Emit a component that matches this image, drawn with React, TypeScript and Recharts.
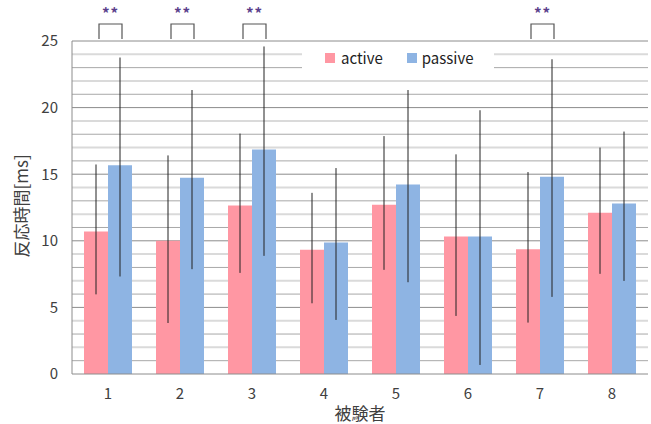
import React from 'react';
import { BarChart, Bar, XAxis, YAxis, ErrorBar, ReferenceLine, CartesianGrid } from 'recharts';

const subjects = ['1', '2', '3', '4', '5', '6', '7', '8'];
const activeMean = [10.7, 10.0, 12.65, 9.32, 12.7, 10.32, 9.37, 12.1];
const passiveMean = [15.68, 14.74, 16.86, 9.87, 14.23, 10.32, 14.81, 12.8];
const activeErr: [number, number][] = [
  [4.72, 5.03], [6.17, 6.41], [5.06, 5.4], [4.01, 4.28],
  [4.88, 5.16], [5.96, 6.17], [5.51, 5.79], [4.58, 4.9],
];
const passiveErr: [number, number][] = [
  [8.36, 8.08], [6.87, 6.58], [7.99, 7.73], [5.81, 5.59],
  [7.34, 7.09], [9.64, 9.48], [9.02, 8.82], [5.81, 5.4],
];
const significant = ['1', '2', '3', '7'];
const yDomain: [number, number] = [0, 25];
const yTicks = [0, 5, 10, 15, 20, 25];
const gridLight = [2, 4, 7, 9, 12, 14, 17, 19, 22, 24];
const gridMedium = [1, 3, 6, 8, 11, 13, 16, 18, 21, 23];
const gridMajor = [5, 10, 15, 20, 25];

const data = subjects.map((s, i) => ({
  name: s,
  active: activeMean[i],
  passive: passiveMean[i],
  activeErr: activeErr[i],
  passiveErr: passiveErr[i],
}));

const FONT = '"Noto Sans CJK JP", "Noto Sans", sans-serif';
const PINK = '#FF97A3';
const BLUE = '#8EB4E3';

const SigLabel = (props: any) => {
  const vb = props.viewBox || {};
  const x = vb.x;
  const y = vb.y;
  if (x == null || y == null) return null;
  return (
    <g>
      <path
        d={`M${x - 9},${y - 2} L${x - 9},${y - 17} L${x + 14},${y - 17} L${x + 14},${y - 2}`}
        fill="none"
        stroke="#555"
        strokeWidth={1.2}
      />
      <text x={x + 2.5} y={y - 22} textAnchor="middle" fill="#5b3f8c" fontSize={15} fontFamily={FONT} fontWeight="bold" letterSpacing={1}>
        **
      </text>
    </g>
  );
};

const gen = (vals: number[]) => (props: any) => {
  const s = props.yAxis && props.yAxis.scale;
  if (typeof s === 'function') return vals.map((v) => s(v));
  if (s && typeof s.map === 'function') return vals.map((v) => s.map(v));
  const off = props.offset || {};
  const top = off.top ?? 0;
  const h = off.height ?? 0;
  return vals.map((v) => top + h * (1 - (v - yDomain[0]) / (yDomain[1] - yDomain[0])));
};

export default function App() {
  return (
    <div style={{ position: 'absolute', left: 0, top: 0, width: 651, height: 424, background: '#fff' }}>
      <BarChart
        width={651}
        height={424}
        data={data}
        margin={{ top: 41, right: 3, bottom: 0, left: 12 }}
        barCategoryGap={12}
        barGap={0}
      >
        <CartesianGrid vertical={false} stroke="#dadada" strokeWidth={2} horizontalCoordinatesGenerator={gen(gridLight)} />
        <CartesianGrid vertical={false} stroke="#a8a8a8" strokeWidth={1} horizontalCoordinatesGenerator={gen(gridMedium)} />
        <CartesianGrid vertical={false} stroke="#8c8c8c" strokeWidth={1} horizontalCoordinatesGenerator={gen(gridMajor)} />
        <XAxis
          dataKey="name"
          height={50}
          stroke="#8c8c8c"
          tickLine={false}
          tick={{ fill: '#404040', fontSize: 15, fontFamily: FONT }}
          dy={6}
          label={{ value: '被験者', position: 'insideBottom', offset: 4, fill: '#404040', fontSize: 17, fontFamily: FONT }}
        />
        <YAxis
          width={60}
          domain={yDomain}
          ticks={yTicks}
          stroke="#8c8c8c"
          tickLine={false}
          tick={{ fill: '#404040', fontSize: 15, fontFamily: FONT }}
          dx={-6}
          label={{ value: '反応時間[ms]', angle: -90, position: 'insideLeft', offset: 10, dy: 50, fill: '#404040', fontSize: 17, fontFamily: FONT }}
        />
        <Bar dataKey="active" fill={PINK} barSize={24} isAnimationActive={false}>
          <ErrorBar dataKey="activeErr" width={0} stroke="#222" strokeWidth={1} direction="y" />
        </Bar>
        <Bar dataKey="passive" fill={BLUE} barSize={24} isAnimationActive={false}>
          <ErrorBar dataKey="passiveErr" width={0} stroke="#222" strokeWidth={1} direction="y" />
        </Bar>
        {significant.map((s) => (
          <ReferenceLine key={'s' + s} x={s} stroke="none" strokeOpacity={0} label={<SigLabel />} />
        ))}
      </BarChart>
      <div
        style={{
          position: 'absolute', left: 302, top: 43, width: 192, height: 29, background: '#fff',
          display: 'flex', alignItems: 'center', fontFamily: FONT, fontSize: 15, color: '#222',
        }}
      >
        <span style={{ display: 'inline-block', width: 10, height: 10, background: PINK, marginLeft: 23, marginRight: 6 }} />
        <span>active</span>
        <span style={{ display: 'inline-block', width: 10, height: 10, background: BLUE, marginLeft: 24, marginRight: 5 }} />
        <span>passive</span>
      </div>
    </div>
  );
}
